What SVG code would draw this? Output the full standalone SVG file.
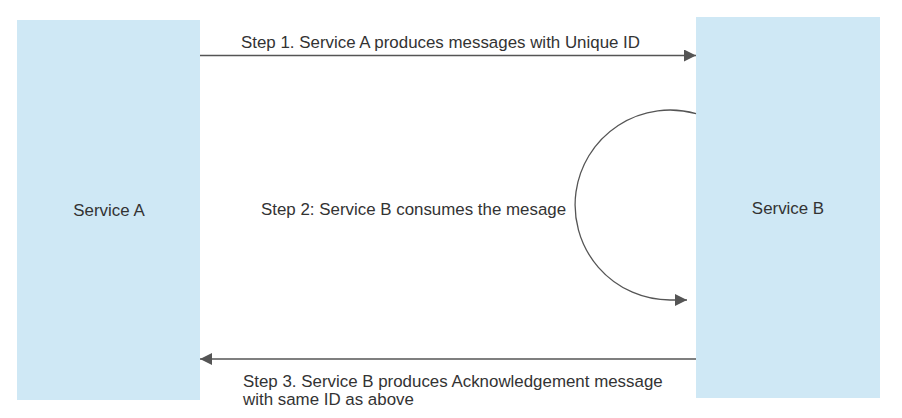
<svg xmlns="http://www.w3.org/2000/svg" width="902" height="418" viewBox="0 0 902 418">
<defs>
<style>
.box{fill:#cfe8f5;}
.t{font-family:"Liberation Sans",Arial,sans-serif;font-size:16.9px;fill:#333;}
.c{fill:none;stroke:#555;stroke-width:1.3;}
</style>
<marker id="ah" viewBox="0 0 10 10" refX="10" refY="5" markerWidth="12" markerHeight="12" markerUnits="userSpaceOnUse" orient="auto">
<path d="M0,0 L10,5 L0,10 z" fill="#555"/>
</marker>
</defs>
<rect width="902" height="418" fill="#fff"/>
<g id="serviceA">
<rect class="box" x="17" y="20" width="183" height="380"/>
<text class="t" x="109" y="216" text-anchor="middle">Service A</text>
</g>
<g id="serviceB">
<rect class="box" x="696" y="17" width="184" height="381"/>
<text class="t" x="788" y="214" text-anchor="middle">Service B</text>
</g>
<g id="connectors">
<line class="c" x1="200" y1="55.5" x2="696" y2="55.5" marker-end="url(#ah)"/>
<path class="c" d="M696,113.6 A95,95 0 1 0 670,300 L687,300" marker-end="url(#ah)"/>
<line class="c" x1="696" y1="359" x2="200" y2="359" marker-end="url(#ah)"/>
</g>
<g id="labels">
<text class="t" x="241" y="48">Step 1. Service A produces messages with Unique ID</text>
<text class="t" x="261" y="215">Step 2: Service B consumes the mesage</text>
<text class="t" x="243" y="387">Step 3. Service B produces Acknowledgement message</text>
<text class="t" x="243" y="405">with same ID as above</text>
</g>
</svg>
